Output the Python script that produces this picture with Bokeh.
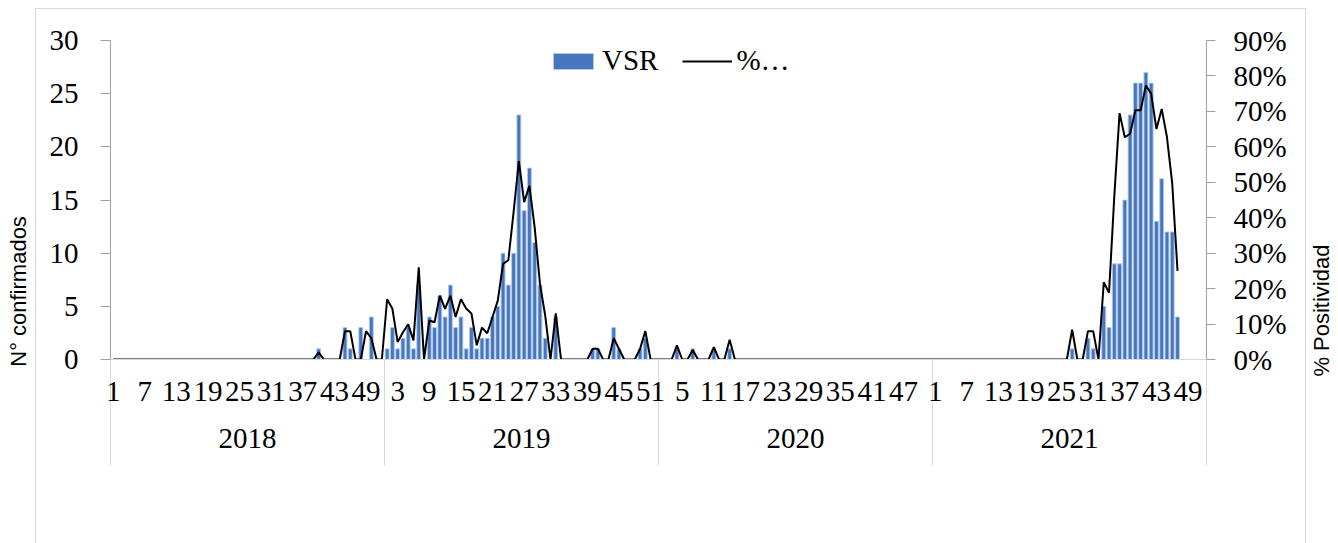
import math
from bokeh.plotting import figure
from bokeh.models import (Range1d, LinearAxis, FixedTicker, NumeralTickFormatter,
                          Legend, LegendItem, Label, ColumnDataSource)
from bokeh.embed import file_html
from bokeh.resources import INLINE

# ---------------- data ----------------
years = ["2018", "2019", "2020", "2021"]
weeks_per_year = 52
week_label_step = 6
NA = float("nan")

vsr_2018 = [0, 0, 0, 0, 0, 0, 0, 0, 0, 0,
            0, 0, 0, 0, 0, 0, 0, 0, 0, 0,
            0, 0, 0, 0, 0, 0, 0, 0, 0, 0,
            0, 0, 0, 0, 0, 0, 0, 0, 0, 1,
            0, 0, 0, 0, 3, 1, 0, 3, 0, 4,
            0, 0]
pct_2018 = [0, 0, 0, 0, 0, 0, 0, 0, 0, 0,
            0, 0, 0, 0, 0, 0, 0, 0, 0, 0,
            0, 0, 0, 0, 0, 0, 0, 0, 0, 0,
            0, 0, 0, 0, 0, 0, 0, 0, 0, 2,
            0, 0, 0, 0, 8, 8, 0, 0, 8, 6,
            0, 0]

vsr_2019 = [1, 3, 1, 2, 3, 1, 7, 0, 4, 3,
            6, 4, 7, 3, 4, 1, 3, 1, 2, 2,
            4, 5, 10, 7, 10, 23, 14, 18, 11, 7,
            2, 0, 4, 0, 0, 0, 0, 0, 0, 1,
            1, 0, 0, 3, 1, 0, 0, 0, 1, 2,
            0, 0]
pct_2019 = [17, 14.3, 4.9, 7.7, 9.9, 5.4, 26, 0, 11, 10.5,
            18, 14.3, 18, 12, 17, 14.4, 13, 4, 9, 7.4,
            12, 16.6, 27, 28, 41.6, 56, 44.4, 49, 37.3, 21.4,
            12.4, 0, 13, 0, 0, 0, 0, 0, 0, 3,
            3, 0, 0, 6, 3, 0, 0, 0, 3, 8,
            0, 0]

vsr_2020 = [0, 0, 0, 1, 0, 0, 1, 0, 0, 0,
            1, 0, 0, 1, 0, 0, 0, 0, 0, 0,
            0, 0, 0, 0, 0, 0, 0, 0, 0, 0,
            0, 0, 0, 0, 0, 0, 0, 0, 0, 0,
            0, 0, 0, 0, 0, 0, 0, 0, 0, 0,
            0, 0]
pct_2020 = [0, 0, 0, 4, 0, 0, 2.7, 0, 0, 0,
            3.5, 0, 0, 5.6, 0, 0, 0, 0, 0, 0,
            0, 0, 0, 0, 0, 0, 0, 0, 0, 0,
            0, 0, 0, 0, 0, 0, 0, 0, 0, 0,
            0, 0, 0, 0, 0, 0, 0, 0, 0, 0,
            0, 0]

vsr_2021 = [0, 0, 0, 0, 0, 0, 0, 0, 0, 0,
            0, 0, 0, 0, 0, 0, 0, 0, 0, 0,
            0, 0, 0, 0, 0, 0, 1, 0, 0, 2,
            1, 0, 5, 3, 9, 9, 15, 23, 26, 26,
            27, 26, 13, 17, 12, 12, 4, NA, NA, NA,
            NA, NA]
pct_2021 = [0, 0, 0, 0, 0, 0, 0, 0, 0, 0,
            0, 0, 0, 0, 0, 0, 0, 0, 0, 0,
            0, 0, 0, 0, 0, 0, 8.4, 0, 0, 8,
            8, 0, 21.8, 18.8, 46, 69.5, 62.7, 63.7, 70.3, 70.3,
            77.3, 75, 65, 70.7, 62.7, 49.6, 25, NA, NA, NA,
            NA, NA]

vsr = vsr_2018 + vsr_2019 + vsr_2020 + vsr_2021
pct = [v / 100 for v in (pct_2018 + pct_2019 + pct_2020 + pct_2021)]
idx = list(range(len(vsr)))
n = len(vsr)

src = ColumnDataSource(dict(x=idx, vsr=vsr, pct=pct))

SERIF = "Liberation Serif"
SANS = "Liberation Sans"
FS = "29px"

border_css = {
    "background-color": "white",
    "background-image": ("linear-gradient(#D9D9D9,#D9D9D9), "
                         "linear-gradient(#D9D9D9,#D9D9D9), "
                         "linear-gradient(#D9D9D9,#D9D9D9)"),
    "background-size": "1px 600px, 1px 600px, 1271px 1px",
    "background-position": "35px 8px, 1305px 8px, 35px 8px",
    "background-repeat": "no-repeat",
}

p = figure(frame_width=1096, frame_height=319,
           min_border_left=110, min_border_right=132,
           min_border_top=40, min_border_bottom=184,
           x_range=Range1d(-0.5, n - 0.5), y_range=Range1d(0, 30),
           output_backend="svg", toolbar_location=None,
           x_axis_type=None, y_axis_type=None, styles=border_css)
p.outline_line_color = None
p.background_fill_color = "white"
p.border_fill_color = None
p.xgrid.visible = False
p.ygrid.visible = False
p.extra_y_ranges = {"pct": Range1d(0, 0.9)}

bars = p.vbar(x="x", top="vsr", width=0.74, source=src,
              fill_color="#4677BE", line_color="#B4CBEA", line_width=0.9)
line = p.line(x="x", y="pct", source=src, y_range_name="pct",
              line_color="black", line_width=2)

# left axis
yl = LinearAxis(ticker=FixedTicker(ticks=[0, 5, 10, 15, 20, 25, 30]))
yl.axis_line_color = "#A0A0A0"
yl.major_tick_line_color = "#A0A0A0"
yl.major_tick_out = 10
yl.major_tick_in = 0
yl.minor_tick_line_color = None
yl.major_label_standoff = 22
yl.major_label_text_font = SERIF
yl.major_label_text_font_size = FS
yl.major_label_text_color = "black"
p.add_layout(yl, "left")

# right axis
yr = LinearAxis(y_range_name="pct",
                ticker=FixedTicker(ticks=[0, 0.1, 0.2, 0.3, 0.4, 0.5, 0.6, 0.7, 0.8, 0.9]),
                formatter=NumeralTickFormatter(format="0%"))
yr.axis_line_color = "#A0A0A0"
yr.major_tick_line_color = "#A0A0A0"
yr.major_tick_out = 9
yr.major_tick_in = 0
yr.minor_tick_line_color = None
yr.major_label_standoff = 18
yr.major_label_text_font = SERIF
yr.major_label_text_font_size = FS
yr.major_label_text_color = "black"
p.add_layout(yr, "right")

# week axis (year separators drawn as long minor ticks)
week_ticks = list(range(0, n, week_label_step))
week_labels = {t: str(t % weeks_per_year + 1) for t in week_ticks}
separators = [k * weeks_per_year - 0.5 for k in range(len(years) + 1)]
xw = LinearAxis(ticker=FixedTicker(ticks=week_ticks, minor_ticks=separators),
                major_label_overrides=week_labels)
xw.axis_line_color = "#D9D9D9"
xw.major_tick_line_color = None
xw.major_tick_out = 0
xw.major_tick_in = 0
xw.minor_tick_line_color = "#D9D9D9"
xw.minor_tick_out = 106
xw.minor_tick_in = 0
xw.major_label_standoff = -84
xw.major_label_text_font = SERIF
xw.major_label_text_font_size = FS
xw.major_label_text_color = "black"
p.add_layout(xw, "below")

# year axis
year_centers = [k * weeks_per_year + (weeks_per_year - 1) / 2 for k in range(len(years))]
xy = LinearAxis(ticker=FixedTicker(ticks=year_centers, minor_ticks=[]),
                major_label_overrides={c: y for c, y in zip(year_centers, years)})
xy.axis_line_color = None
xy.major_tick_line_color = None
xy.minor_tick_line_color = None
xy.major_tick_out = 0
xy.major_tick_in = 0
xy.major_label_standoff = 25
xy.major_label_text_font = SERIF
xy.major_label_text_font_size = FS
xy.major_label_text_color = "black"
p.add_layout(xy, "below")

# axis titles
p.add_layout(Label(x=-17.9, y=6.4, x_units="data", y_units="data",
                   text="N° confirmados", angle=90, angle_units="deg",
                   text_align="center", text_baseline="middle",
                   text_font=SANS, text_font_size="22px", text_color="black"), "left")
p.add_layout(Label(x=229.3, y=4.6, x_units="data", y_units="data",
                   text="% Positividad", angle=90, angle_units="deg",
                   text_align="center", text_baseline="middle",
                   text_font=SANS, text_font_size="22px", text_color="black"), "right")

legend = Legend(items=[LegendItem(label="VSR", renderers=[bars]),
                       LegendItem(label="%…", renderers=[line])],
                location=(438, 282), orientation="horizontal",
                label_text_font=SERIF, label_text_font_size=FS,
                label_text_color="black",
                background_fill_alpha=0, border_line_color=None,
                glyph_width=50, glyph_height=20, padding=0, margin=0,
                spacing=24, label_standoff=4)
p.add_layout(legend, "center")

open("out.html", "w").write(file_html(p, INLINE))
